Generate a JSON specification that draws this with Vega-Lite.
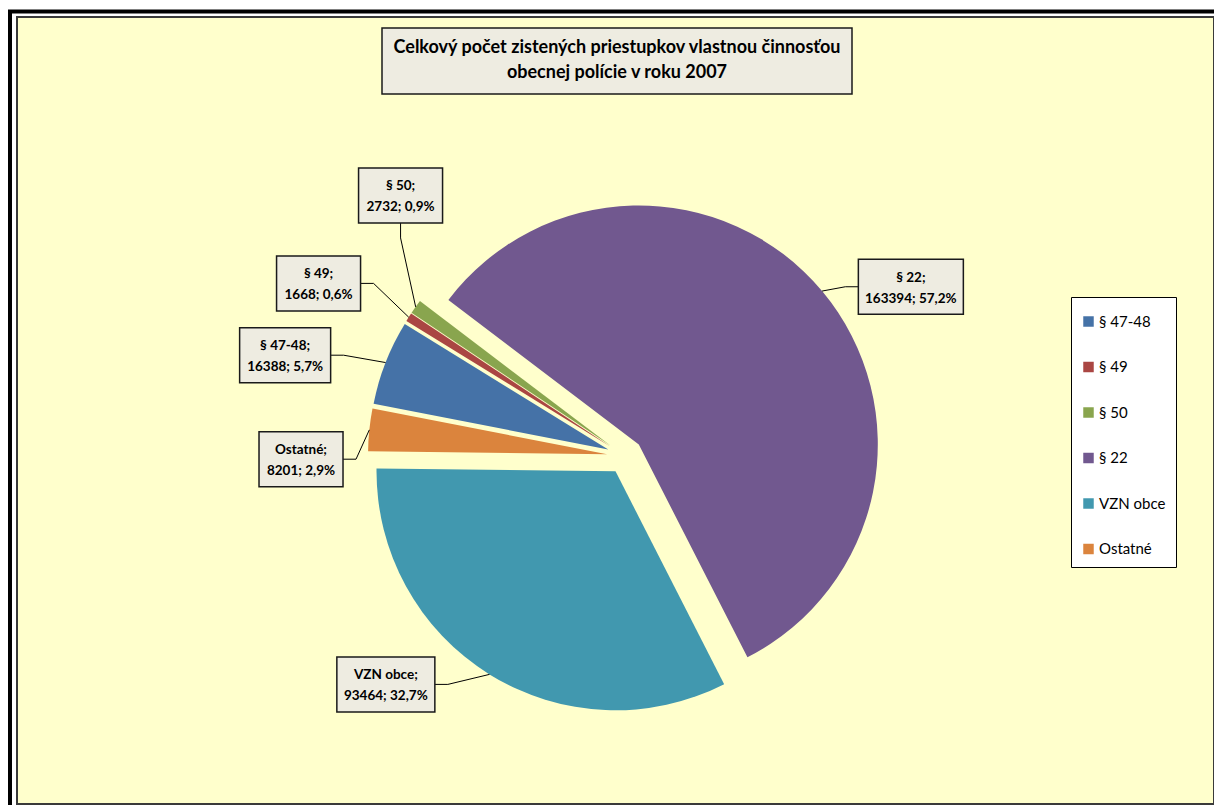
{
  "$schema": "https://vega.github.io/schema/vega-lite/v6.json",
  "width": 1197,
  "height": 787,
  "autosize": {"type": "none"},
  "padding": {"left": 17, "top": 17, "right": 0, "bottom": 3},
  "background": "#FFFFFF",
  "config": {
    "view": {"fill": "#FFFFCC", "stroke": "#3a3a3a", "strokeWidth": 2},
    "font": "Lato"
  },
  "data": {
    "values": [
      {"cat": "§ 47-48", "value": 16388, "pct": "5,7%"},
      {"cat": "§ 49", "value": 1668, "pct": "0,6%"},
      {"cat": "§ 50", "value": 2732, "pct": "0,9%"},
      {"cat": "§ 22", "value": 163394, "pct": "57,2%"},
      {"cat": "VZN obce", "value": 93464, "pct": "32,7%"},
      {"cat": "Ostatné", "value": 8201, "pct": "2,9%"}
    ]
  },
  "transform": [
    {"joinaggregate": [{"op": "sum", "field": "value", "as": "total"}]},
    {"window": [{"op": "sum", "field": "value", "as": "cum"}], "frame": [null, 0]},
    {"calculate": "281*PI/180 + 2*PI*(datum.cum - datum.value)/datum.total", "as": "a0"},
    {"calculate": "281*PI/180 + 2*PI*datum.cum/datum.total", "as": "a1"},
    {"calculate": "(datum.a0 + datum.a1)/2", "as": "mid"},
    {"calculate": "18*sin(datum.mid)", "as": "ex"},
    {"calculate": "18*cos(datum.mid)", "as": "ey"},
    {"calculate": "datum.ex + 239*sin(datum.mid)", "as": "edx"},
    {"calculate": "datum.ey + 239*cos(datum.mid)", "as": "edy"},
    {"calculate": "datum.cat === '§ 47-48' ? -4.8 : datum.cat === '§ 49' ? -3.3 : datum.cat === '§ 50' ? 13.8 : datum.cat === '§ 22' ? 9.3 : datum.cat === 'VZN obce' ? 14.5 : -6.4", "as": "tw"},
    {"calculate": "datum.cat === '§ 47-48' ? 354.5 : datum.cat === '§ 49' ? 351.7 : datum.cat === '§ 50' ? 343.9 : datum.cat === '§ 22' ? 332.2 : datum.cat === 'VZN obce' ? 330.7 : 324", "as": "lr"},
    {"calculate": "datum.mid + datum.tw*PI/180", "as": "la"},
    {"calculate": "datum.lr*sin(datum.la)", "as": "lx"},
    {"calculate": "datum.lr*cos(datum.la)", "as": "ly"},
    {"calculate": "datum.ly + 9", "as": "ty"},
    {"calculate": "7*length(datum.value + '; ' + datum.pct) + 14", "as": "w"},
    {"calculate": "[datum.cat + ';', datum.value + '; ' + datum.pct]", "as": "lines"},
    {"calculate": "datum.lx - datum.w/2", "as": "bx1"},
    {"calculate": "datum.lx + datum.w/2", "as": "bx2"},
    {"calculate": "datum.ly - 27.5", "as": "by1"},
    {"calculate": "datum.ly + 27.5", "as": "by2"},
    {"calculate": "abs(sin(datum.la)) < 0.7", "as": "vert"},
    {"calculate": "datum.vert ? datum.lx : (datum.lx < 0 ? datum.lx + datum.w/2 : datum.lx - datum.w/2)", "as": "ax"},
    {"calculate": "datum.vert ? (datum.ly > 0 ? datum.ly - 27.5 : datum.ly + 27.5) : datum.ly", "as": "ay"},
    {"calculate": "datum.vert ? datum.lx : (datum.lx < 0 ? datum.ax + 13 : datum.ax - 13)", "as": "sx"},
    {"calculate": "datum.vert ? (datum.ly > 0 ? datum.ay - 15 : datum.ay + 15) : datum.ly", "as": "sy"}
  ],
  "layer": [
    {
      "data": {"values": [{}]},
      "mark": {"type": "rule", "color": "#000000", "strokeWidth": 4, "strokeCap": "butt"},
      "encoding": {
        "x": {"datum": -617, "type": "quantitative", "scale": {"domain": [-608, 589], "nice": false, "zero": false}, "axis": null},
        "x2": {"datum": 589},
        "y": {"datum": 444.5, "type": "quantitative", "scale": {"domain": [-348, 439], "nice": false, "zero": false}, "axis": null}
      }
    },
    {
      "data": {"values": [{}]},
      "mark": {"type": "rule", "color": "#000000", "strokeWidth": 4, "strokeCap": "butt"},
      "encoding": {
        "x": {"datum": -615, "type": "quantitative", "scale": {"domain": [-608, 589], "nice": false, "zero": false}, "axis": null},
        "y": {"datum": 446, "type": "quantitative", "scale": {"domain": [-348, 439], "nice": false, "zero": false}, "axis": null},
        "y2": {"datum": -349}
      }
    },
    {
      "data": {"values": [{}]},
      "mark": {"type": "rect", "fill": "#EEECE1", "stroke": "#1a1a1a", "strokeWidth": 1.5},
      "encoding": {
        "x": {"datum": -243, "type": "quantitative", "scale": {"domain": [-608, 589], "nice": false, "zero": false}, "axis": null},
        "x2": {"datum": 227},
        "y": {"datum": 428, "type": "quantitative", "scale": {"domain": [-348, 439], "nice": false, "zero": false}, "axis": null},
        "y2": {"datum": 362}
      }
    },
    {
      "data": {"values": [{}]},
      "mark": {"type": "text", "font": "Lato", "fontWeight": "bold", "fontSize": 18, "lineHeight": 25, "align": "center", "baseline": "middle", "color": "#000000"},
      "encoding": {
        "x": {"datum": -8, "type": "quantitative", "scale": {"domain": [-608, 589], "nice": false, "zero": false}, "axis": null},
        "y": {"datum": 408, "type": "quantitative", "scale": {"domain": [-348, 439], "nice": false, "zero": false}, "axis": null},
        "text": {"value": ["Celkový počet zistených priestupkov vlastnou činnosťou", "obecnej polície v roku 2007"]}
      }
    },
    {
      "mark": {"type": "arc", "outerRadius": 239, "innerRadius": 0},
      "encoding": {
        "x": {"field": "ex", "type": "quantitative", "scale": {"domain": [-608, 589], "nice": false, "zero": false}, "axis": null},
        "y": {"field": "ey", "type": "quantitative", "scale": {"domain": [-348, 439], "nice": false, "zero": false}, "axis": null},
        "theta": {"field": "a0", "type": "quantitative", "scale": null, "stack": null},
        "theta2": {"field": "a1"},
        "color": {
          "field": "cat",
          "type": "nominal",
          "scale": {
            "domain": ["§ 47-48", "§ 49", "§ 50", "§ 22", "VZN obce", "Ostatné"],
            "range": ["#4572A7", "#AA4643", "#89A54E", "#71588F", "#4198AF", "#DB843D"]
          },
          "legend": {
            "title": " ",
            "titleFontSize": 1,
            "titlePadding": 6,
            "orient": "none",
            "legendX": 1054,
            "legendY": 280,
            "fillColor": "#FFFFFF",
            "strokeColor": "#000000",
            "padding": 10,
            "rowPadding": 29.5,
            "symbolType": "square",
            "symbolSize": 110,
            "symbolStrokeWidth": 0,
            "symbolOpacity": 1,
            "labelFont": "Lato",
            "labelFontSize": 15,
            "labelColor": "#000000",
            "labelOffset": 3
          }
        }
      }
    },
    {
      "mark": {"type": "rule", "color": "#000000", "strokeWidth": 1},
      "encoding": {
        "x": {"field": "ax", "type": "quantitative", "scale": {"domain": [-608, 589], "nice": false, "zero": false}, "axis": null},
        "y": {"field": "ay", "type": "quantitative", "scale": {"domain": [-348, 439], "nice": false, "zero": false}, "axis": null},
        "x2": {"field": "sx"},
        "y2": {"field": "sy"}
      }
    },
    {
      "mark": {"type": "rule", "color": "#000000", "strokeWidth": 1},
      "encoding": {
        "x": {"field": "sx", "type": "quantitative", "scale": {"domain": [-608, 589], "nice": false, "zero": false}, "axis": null},
        "y": {"field": "sy", "type": "quantitative", "scale": {"domain": [-348, 439], "nice": false, "zero": false}, "axis": null},
        "x2": {"field": "edx"},
        "y2": {"field": "edy"}
      }
    },
    {
      "mark": {"type": "rect", "fill": "#EEECE1", "stroke": "#1a1a1a", "strokeWidth": 1.5},
      "encoding": {
        "x": {"field": "bx1", "type": "quantitative", "scale": {"domain": [-608, 589], "nice": false, "zero": false}, "axis": null},
        "x2": {"field": "bx2"},
        "y": {"field": "by1", "type": "quantitative", "scale": {"domain": [-348, 439], "nice": false, "zero": false}, "axis": null},
        "y2": {"field": "by2"}
      }
    },
    {
      "mark": {"type": "text", "font": "Lato", "fontWeight": "bold", "fontSize": 13.5, "lineHeight": 21, "align": "center", "baseline": "middle", "color": "#000000"},
      "encoding": {
        "x": {"field": "lx", "type": "quantitative", "scale": {"domain": [-608, 589], "nice": false, "zero": false}, "axis": null},
        "y": {"field": "ty", "type": "quantitative", "scale": {"domain": [-348, 439], "nice": false, "zero": false}, "axis": null},
        "text": {"field": "lines", "type": "nominal"}
      }
    }
  ]
}
